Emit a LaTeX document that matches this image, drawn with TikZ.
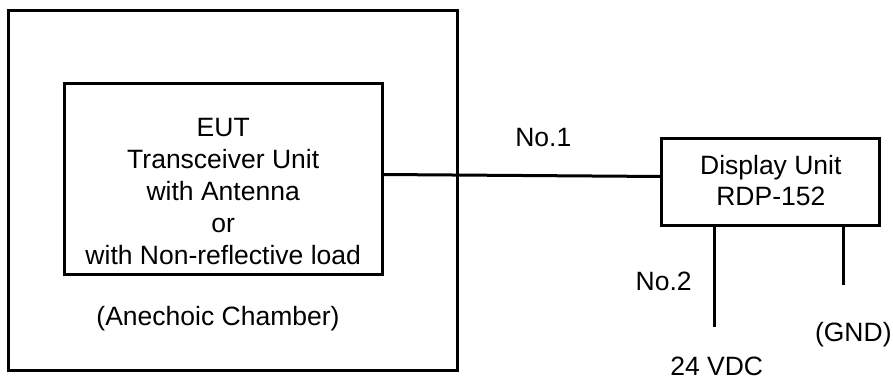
\documentclass[tikz,border=0pt]{standalone}
\usepackage{fontspec}
\setmainfont{Liberation Sans}
\begin{document}
\begin{tikzpicture}[x=1pt,y=-1pt,
  box/.style={draw=black,line width=3pt,rectangle,inner sep=0pt,outer sep=0pt},
  wire/.style={draw=black,line width=3pt},
  lbl/.style={inner sep=0pt,outer sep=0pt,font=\fontsize{26.5}{32}\selectfont},
  lblb/.style={lbl,anchor=base}]
\useasboundingbox (0,0) rectangle (893,379);
% chamber
\node[box,minimum width=449pt,minimum height=360pt] (chamber) at (232.8,190.7) {};
% EUT box
\node[box,minimum width=318.3pt,minimum height=190pt] (eut) at (223.2,179) {};
\node[lblb] (t1) at (223.2,136.7) {EUT};
\node[lblb] (t2) at (223.2,168.7) {Transceiver Unit};
\node[lblb] (t3) at (223.2,200.7) {with Antenna};
\node[lblb] (t4) at (223.2,232.7) {or};
\node[lblb] (t5) at (223.2,264.7) {with Non-reflective load};
\node[lblb] (anech) at (218,325) {(Anechoic Chamber)};
% display
\node[box,minimum width=218.3pt,minimum height=86.7pt] (disp) at (770.8,181.7) {};
\node[lblb] (d1) at (770.8,175) {Display Unit};
\node[lblb] (d2) at (770.8,205.5) {RDP-152};
% cable No.1
\coordinate (c1a) at (382,174.5);
\coordinate (c1b) at (661.7,176.5);
\draw[wire] (eut.east |- c1a) -- (disp.west |- c1b);
\node[lblb] (no1) at (543.3,146.7) {No.1};
% leads
\coordinate (v24) at (714,327);
\coordinate (gnd) at (843,285);
\draw[wire] (v24 |- disp.south) -- (v24);
\draw[wire] (gnd |- disp.south) -- (gnd);
\node[lblb] (no2) at (663.7,290) {No.2};
\node[lblb] (gndl) at (853.3,341.5) {(GND)};
\node[lblb] (vdc) at (716.7,375.5) {24 VDC};
\end{tikzpicture}
\end{document}
